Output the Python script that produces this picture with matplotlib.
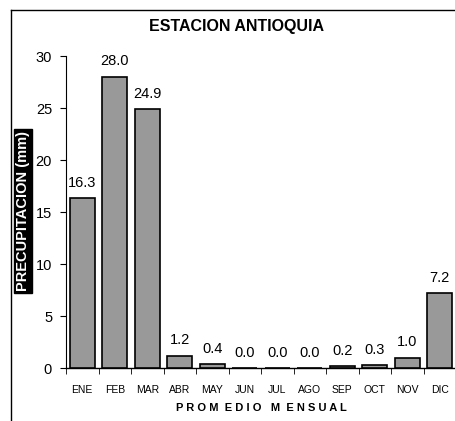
import matplotlib.pyplot as plt
from matplotlib.lines import Line2D
import numpy as np

months = ["ENE", "FEB", "MAR", "ABR", "MAY", "JUN", "JUL", "AGO", "SEP", "OCT", "NOV", "DIC"]
precip = [16.3, 28.0, 24.9, 1.2, 0.4, 0.0, 0.0, 0.0, 0.2, 0.3, 1.0, 7.2]
yticks = [0, 5, 10, 15, 20, 25, 30]

plt.rcParams["font.family"] = ["Liberation Sans", "DejaVu Sans"]

fig = plt.figure(figsize=(4.55, 4.21), dpi=100)
ax = fig.add_axes([66 / 455, 53 / 421, 390 / 455, 312 / 421])

x = np.arange(len(months))
bars = ax.bar(x, precip, width=0.78, color="#999999", edgecolor="black", linewidth=1.2, zorder=3)

for xi, v in zip(x, precip):
    ax.text(xi, v + 0.8, f"{v:.1f}", ha="center", va="bottom", fontsize=10.5)

ax.set_xlim(-0.5, len(months) - 0.5)
ax.set_ylim(0, 30)
ax.set_yticks(yticks)
ax.set_yticklabels([str(t) for t in yticks], fontsize=10.5)
ax.set_xticks(x)
ax.set_xticklabels(months, fontsize=7.5)
ax.set_xticks(np.arange(-0.5, len(months)), minor=True)
ax.tick_params(axis="x", which="major", length=0, pad=12)
ax.tick_params(axis="x", which="minor", length=4, direction="out")
ax.tick_params(axis="y", length=4, direction="out", pad=6)

for side in ["top", "right"]:
    ax.spines[side].set_visible(False)
ax.spines["left"].set_linewidth(0.8)
ax.spines["bottom"].set_linewidth(1.0)

ax.set_xlabel("P R O M  E D I O   M  E N S U A L", fontsize=8, fontweight="bold", labelpad=6)

fig.text(236 / 455, 1 - 27 / 421, "ESTACION ANTIOQUIA", ha="center", va="center",
         fontsize=11.5, fontweight="bold")

fig.text(23 / 455, 1 - 211 / 421, "PRECUPITACION (mm)", rotation=90, ha="center", va="center",
         fontsize=10.5, fontweight="bold", color="white",
         bbox=dict(facecolor="black", edgecolor="black", pad=1.5))

# outer chart frame (cropped on the right and bottom)
fig.add_artist(Line2D([11 / 455, 11 / 455], [0, 1 - 10 / 421], color="black", linewidth=1.0))
fig.add_artist(Line2D([11 / 455, 1], [1 - 10 / 421, 1 - 10 / 421], color="black", linewidth=1.0))

fig.savefig("out.png", dpi=100)
plt.close(fig)
